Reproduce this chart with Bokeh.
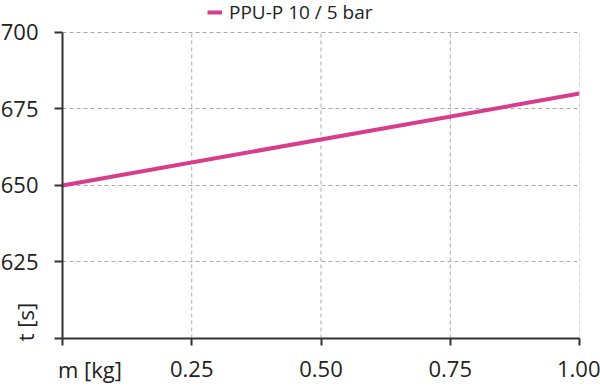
from bokeh.plotting import figure
from bokeh.models import Legend, LegendItem, FixedTicker, Range1d, NumeralTickFormatter
from bokeh.embed import file_html
from bokeh.resources import INLINE

mass = [0.0, 1.0]
time_s = [650, 680]
series_name = "PPU-P 10 / 5 bar"
x_ticks = [0, 0.25, 0.5, 0.75, 1.0]
y_ticks = [600, 625, 650, 675, 700]
x_title = "m [kg]"
y_title = "t [s]"
y_min, y_max = 600, 700
y_view_top = 710.4   # headroom for the legend above the plotted area

FONT = "Open Sans"
TXT = "#222222"
GRID = "#aaaaaa"
EM, EN = "\u2003", "\u2002"   # non-collapsing spaces used to nudge the axis titles

p = figure(width=600, height=386, output_backend="svg", toolbar_location=None,
           x_range=Range1d(x_ticks[0], x_ticks[-1]), y_range=Range1d(y_min, y_view_top),
           min_border_left=62, min_border_right=21, min_border_top=0, min_border_bottom=46)
p.outline_line_color = None
p.background_fill_color = "white"

# vertical grid lines limited to the data area
p.xgrid.visible = False
p.segment(x0=x_ticks[1:], y0=[y_min] * 4, x1=x_ticks[1:], y1=[y_max] * 4,
          line_color=GRID, line_dash="4 3", line_width=1)

r = p.line(mass, time_s, line_color="#d83c8c", line_width=4)

for ax in (p.xaxis[0], p.yaxis[0]):
    ax.axis_line_color = "#333333"
    ax.axis_line_width = 2
    ax.major_tick_line_color = "#333333"
    ax.major_tick_line_width = 2
    ax.major_tick_in = 0
    ax.minor_tick_line_color = None
    ax.major_label_text_font = FONT
    ax.major_label_text_font_size = "22px"
    ax.major_label_text_color = TXT
    ax.axis_label_text_font = FONT
    ax.axis_label_text_font_size = "22px"
    ax.axis_label_text_font_style = "normal"
    ax.axis_label_text_color = TXT

xa, ya = p.xaxis[0], p.yaxis[0]
xa.ticker = FixedTicker(ticks=x_ticks)
ya.ticker = FixedTicker(ticks=y_ticks)
ya.bounds = (y_min, y_max)
xa.formatter = NumeralTickFormatter(format="0.00")
xa.major_label_overrides = {0: ""}
ya.major_label_overrides = {600: ""}
xa.major_tick_out = 7
ya.major_tick_out = 8
xa.major_label_standoff = 15
ya.major_label_standoff = 16

xa.axis_label = EM + EM + EN + x_title
xa.axis_label_align = "start"
xa.axis_label_standoff = -26
ya.axis_label = EM + EN + y_title
ya.axis_label_align = "start"
ya.axis_label_standoff = -42

yg = p.ygrid[0]
yg.ticker = FixedTicker(ticks=y_ticks)
yg.grid_line_color = GRID
yg.grid_line_dash = "4 3"
yg.grid_line_width = 1

legend = Legend(items=[LegendItem(label=series_name, renderers=[r])],
                location=(145, 313), orientation="horizontal",
                label_text_font=FONT, label_text_font_size="19px", label_text_color=TXT,
                glyph_width=15, glyph_height=20, label_height=20, label_standoff=7,
                padding=0, margin=0, border_line_color=None,
                background_fill_alpha=0)
p.add_layout(legend)

open("out.html", "w").write(file_html(p, INLINE))
